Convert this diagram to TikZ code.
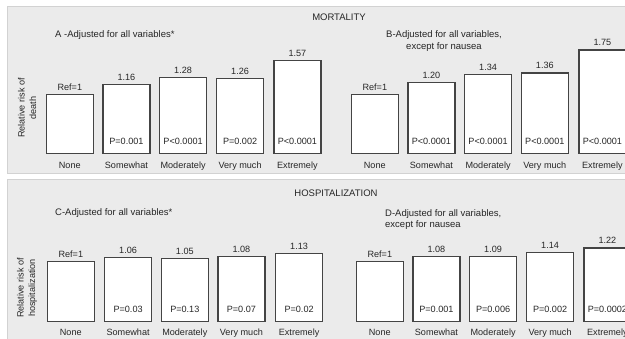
\documentclass[tikz,border=0pt]{standalone}
\usepackage{fontspec}
\setmainfont{Liberation Sans}
\definecolor{panelfill}{HTML}{EBEBEB}
\definecolor{panelline}{HTML}{D2D2D2}
\definecolor{barline}{HTML}{444444}
\definecolor{ink}{HTML}{262626}
% one column: bar, value above, P-value inside, category below
% #1 name, #2 left x, #3 base y, #4 bar height, #5 value, #6 P-value, #7 category
\newcommand\riskcol[7]{%
  \node[riskbar, minimum height=#4] (#1) at (#2,#3) {};
  \node[txt, anchor=base] (#1v) at ([yshift=3.5pt]#1.north) {#5};
  \node[txt, anchor=base] (#1p) at ([yshift=9.3pt]#1.south) {#6};
  \node[txt, anchor=base] (#1c) at ([yshift=-14pt]#1.south) {#7};
}
\begin{document}
\begin{tikzpicture}[x=1pt,y=-1pt,
  panel/.style={fill=panelfill, draw=panelline, line width=0.8pt},
  riskbar/.style={draw=barline, fill=white, line width=1.2pt,
    minimum width=47pt, inner sep=0pt, anchor=south west},
  txt/.style={font=\fontsize{9.1}{11.5}\selectfont, text=ink, inner sep=0pt},
  heading/.style={txt, font=\fontsize{9.5}{11.8}\selectfont},
  axislabel/.style={txt, rotate=90, align=center}]
\useasboundingbox (0,0) rectangle (625,338);
\clip (0,0) rectangle (625,338);
\fill[white] (0,0) rectangle (625,338);

% panels
\draw[panel] (7.5,6) rectangle (660,173.3);
\draw[panel] (7.5,179.3) rectangle (660,360);

% ---------- MORTALITY ----------
\node[heading] (mort) at (339,17) {MORTALITY};
\node[heading, anchor=west] (titA) at (55,35) {A -Adjusted for all variables*};
\node[heading, align=center] (titB) at (444,41) {B-Adjusted for all variables,\\except for nausea};
\node[axislabel] (ylabA) at (27,108) {Relative risk of\\death};

\riskcol{A1}{45.7}{154}{59pt}{Ref=1}{}{None}
\riskcol{A2}{102.3}{154}{68.6pt}{1.16}{P=0.001}{Somewhat}
\riskcol{A3}{159}{154}{76pt}{1.28}{P<0.0001}{Moderately}
\riskcol{A4}{216}{154}{74.6pt}{1.26}{P=0.002}{Very much}
\riskcol{A5}{273.3}{154}{93.2pt}{1.57}{P<0.0001}{Extremely}

\riskcol{B1}{350.7}{154}{59pt}{Ref=1}{}{None}
\riskcol{B2}{407.3}{154}{71pt}{1.20}{P<0.0001}{Somewhat}
\riskcol{B3}{464}{154}{79.3pt}{1.34}{P<0.0001}{Moderately}
\riskcol{B4}{520.7}{154}{80.5pt}{1.36}{P<0.0001}{Very much}
\riskcol{B5}{578.3}{154}{103.5pt}{1.75}{P<0.0001}{Extremely}

% ---------- HOSPITALIZATION ----------
\node[heading] (hosp) at (336,193.3) {HOSPITALIZATION};
\node[heading, anchor=west] (titC) at (55,212.7) {C-Adjusted for all variables*};
\node[heading, align=left, anchor=west] (titD) at (385,219.5) {D-Adjusted for all variables,\\except for nausea};
\node[axislabel] (ylabC) at (27,288) {Relative risk of\\hospitalization};

\riskcol{C1}{46.7}{321.7}{59.7pt}{Ref=1}{}{None}
\riskcol{C2}{104}{321.7}{63.3pt}{1.06}{P=0.03}{Somewhat}
\riskcol{C3}{160.7}{321.7}{62.7pt}{1.05}{P=0.13}{Moderately}
\riskcol{C4}{217.3}{321.7}{64.5pt}{1.08}{P=0.07}{Very much}
\riskcol{C5}{275}{321.7}{67.5pt}{1.13}{P=0.02}{Extremely}

\riskcol{D1}{355.7}{321.7}{59.7pt}{Ref=1}{}{None}
\riskcol{D2}{412.3}{321.7}{64.5pt}{1.08}{P=0.001}{Somewhat}
\riskcol{D3}{469}{321.7}{65pt}{1.09}{P=0.006}{Moderately}
\riskcol{D4}{526}{321.7}{68.3pt}{1.14}{P=0.002}{Very much}
\riskcol{D5}{583.3}{321.7}{73.2pt}{1.22}{P=0.0002}{Extremely}
\end{tikzpicture}
\end{document}
